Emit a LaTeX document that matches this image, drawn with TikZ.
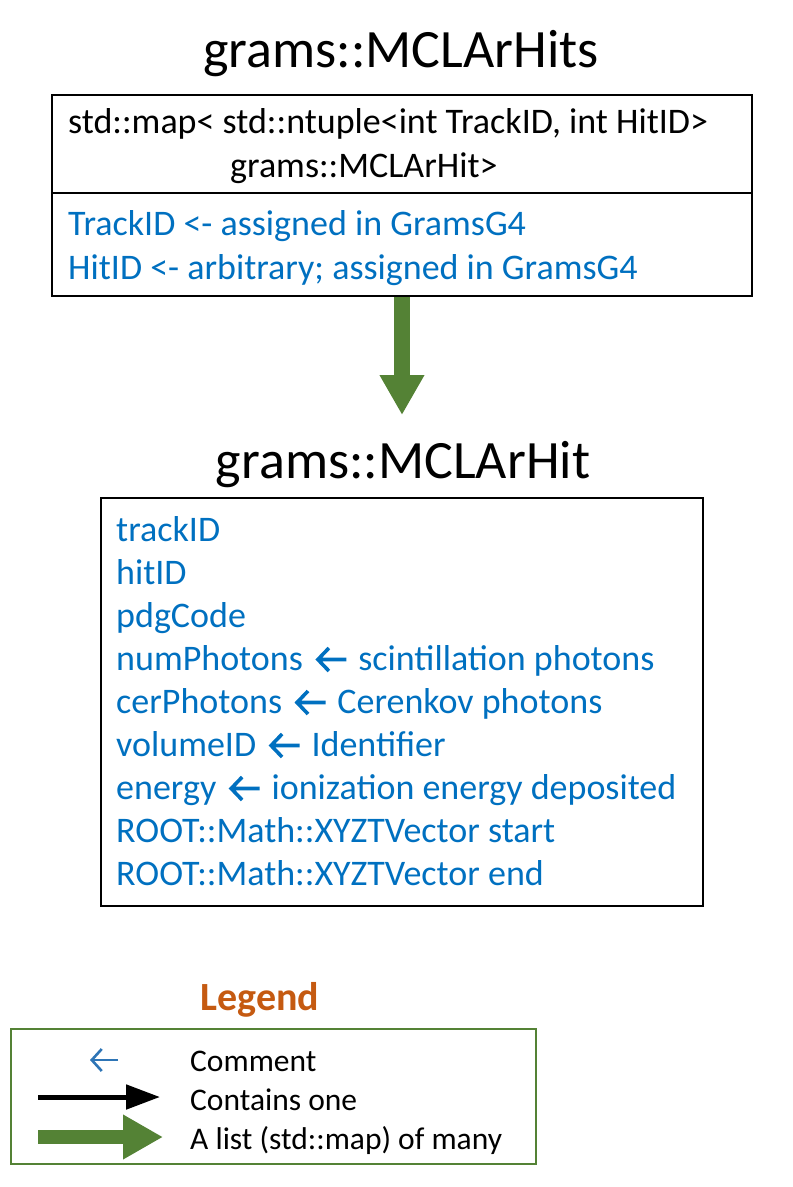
\documentclass[tikz,border=0pt]{standalone}
\usepackage{fontspec}
\setmainfont{Carlito}
\usetikzlibrary{arrows.meta}
\definecolor{cblue}{HTML}{0070C0}
\definecolor{cgreen}{HTML}{548235}
\definecolor{corange}{HTML}{C55A11}
\definecolor{lblue}{HTML}{2E75B6}
\newcommand{\cmtarrow}{\hspace{5pt}\tikz[baseline=0pt,x=1pt,y=1pt]{\draw[cblue,line width=3.6pt,line cap=butt,line join=miter] (12.5pt,22pt) -- (1.5pt,10.5pt) -- (12.5pt,-1pt) (2pt,10.5pt) -- (30pt,10.5pt);}\hspace{2pt}}
\begin{document}
\begin{tikzpicture}[x=1pt,y=-1pt,
  boxpart/.style={draw=black,line width=1.6pt,inner sep=0pt},
  txt/.style={anchor=base west,inner sep=0pt,font=\fontsize{36}{43}\selectfont},
  btxt/.style={txt,text=cblue},
  ttl/.style={anchor=base,inner sep=0pt,font=\fontsize{54}{64}\selectfont},
  ltxt/.style={anchor=base west,inner sep=0pt,font=\fontsize{31.5}{38}\selectfont},
  fatarrow/.style={draw=cgreen,line width=16pt,-{Triangle[length=40pt,width=42pt]},cgreen}]
\useasboundingbox (0,0) rectangle (793,1187);

% ---- grams::MCLArHits ----
\node[ttl] (title1) at (401,67) {grams::MCLArHits};
\node[boxpart,minimum width=700pt,minimum height=98pt] (hitskey) at (402,144) {};
\node[boxpart,minimum width=700pt,minimum height=103pt] (hitsval) at (402,244.5) {};
\node[txt] (k1) at (68,133) {std::map< std::ntuple<int TrackID, int HitID>};
\node[txt] (k2) at (230,177) {grams::MCLArHit>};
\node[btxt] (v1) at (68,235) {TrackID <- assigned in GramsG4};
\node[btxt] (v2) at (68,279) {HitID <- arbitrary; assigned in GramsG4};

% ---- arrow ----
\coordinate (a1end) at (402,415);
\draw[fatarrow] (hitsval.south) -- (a1end);

% ---- grams::MCLArHit ----
\node[ttl] (title2) at (403,478) {grams::MCLArHit};
\node[boxpart,minimum width=602pt,minimum height=408pt] (hitbox) at (402,702) {};
\node[btxt] (f1) at (116,541) {trackID};
\node[btxt] (f2) at (116,584) {hitID};
\node[btxt] (f3) at (116,627) {pdgCode};
\node[btxt] (f4) at (116,670) {numPhotons \cmtarrow{} scintillation photons};
\node[btxt] (f5) at (116,713) {cerPhotons \cmtarrow{} Cerenkov photons};
\node[btxt] (f6) at (116,756) {volumeID \cmtarrow{} Identifier};
\node[btxt] (f7) at (116,799) {energy \cmtarrow{} ionization energy deposited};
\node[btxt] (f8) at (116,842) {ROOT::Math::XYZTVector start};
\node[btxt] (f9) at (116,885) {ROOT::Math::XYZTVector end};

% ---- Legend ----
\node[anchor=base,inner sep=0pt,font=\fontsize{40}{48}\selectfont\bfseries,text=corange] (legtitle) at (260,1010) {Legend};
\node[draw=cgreen,line width=1.6pt,minimum width=525pt,minimum height=135pt,inner sep=0pt] (legbox) at (273.5,1096.5) {};
\node[ltxt] (l1) at (190,1071) {Comment};
\node[ltxt] (l2) at (190,1110) {Contains one};
\node[ltxt] (l3) at (190,1149) {A list (std::map) of many};
\coordinate (c1s) at (118,1060);
\coordinate (c1e) at (90,1060);
\draw[lblue,line width=2.6pt,-{Straight Barb[length=10pt,width=22pt]}] (c1s) -- (c1e);
\coordinate (c2s) at (38,1097);
\coordinate (c2e) at (160,1097);
\draw[black,line width=5pt,-{Triangle[length=34pt,width=24pt]}] (c2s) -- (c2e);
\coordinate (c3s) at (38,1137);
\coordinate (c3e) at (163,1137);
\draw[fatarrow,line width=14pt] (c3s) -- (c3e);
\end{tikzpicture}
\end{document}
